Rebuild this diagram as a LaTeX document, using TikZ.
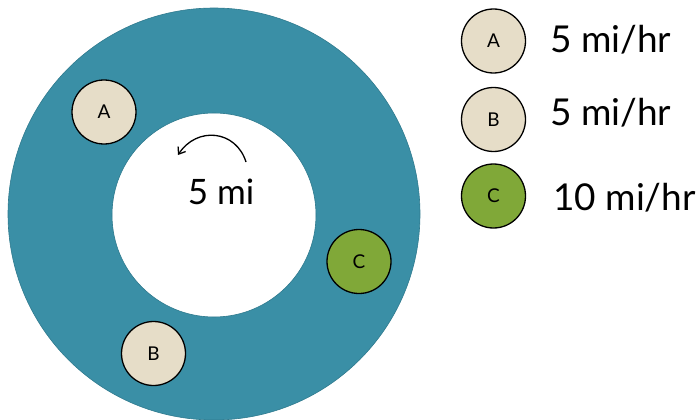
\documentclass[tikz,border=0pt]{standalone}
\usepackage{fontspec}
\setmainfont{Lato}
\usetikzlibrary{arrows.meta}
\definecolor{ringteal}{HTML}{3A8FA6}
\definecolor{ringedge}{HTML}{2F7A8E}
\definecolor{beige}{HTML}{E6DDC8}
\definecolor{olive}{HTML}{80A838}
\tikzset{
  car/.style={circle,draw=black,line width=1.3pt,minimum size=64pt,inner sep=0pt,font=\fontsize{19}{19}\selectfont},
  speed/.style={anchor=base west,inner sep=0pt,font=\fontsize{37}{37}\selectfont}
}
\begin{document}
\begin{tikzpicture}[x=1pt,y=-1pt]
\useasboundingbox (0,0) rectangle (699,420);
% ring
\fill[ringteal,draw=ringedge,line width=0.6pt,even odd rule] (214,214) circle[radius=206] (214,215) circle[radius=102];
\node[car,fill=beige] (A) at (104,112) {A};
\node[car,fill=beige] (B) at (153.5,353.5) {B};
\node[car,fill=olive] (C) at (359,261.5) {C};
% arrow and distance
\coordinate (s) at (246,162);
\coordinate (e) at (178,155);
\draw[line width=1.3pt,-{Straight Barb[length=6pt,width=9pt]}] (s) .. controls (236,130) and (197,126) .. (e);
\node[anchor=base,inner sep=0pt,font=\fontsize{35}{35}\selectfont] (dist) at (221,204) {5 mi};
% legend
\node[car,fill=beige] (LA) at (493.5,41) {A};
\node[car,fill=beige] (LB) at (493.5,119.5) {B};
\node[car,fill=olive] (LC) at (493.5,196) {C};
\node[speed] (sA) at (550,53) {5 mi/hr};
\node[speed] (sB) at (550,125) {5 mi/hr};
\node[speed] (sC) at (553,210) {10 mi/hr};
\end{tikzpicture}
\end{document}
